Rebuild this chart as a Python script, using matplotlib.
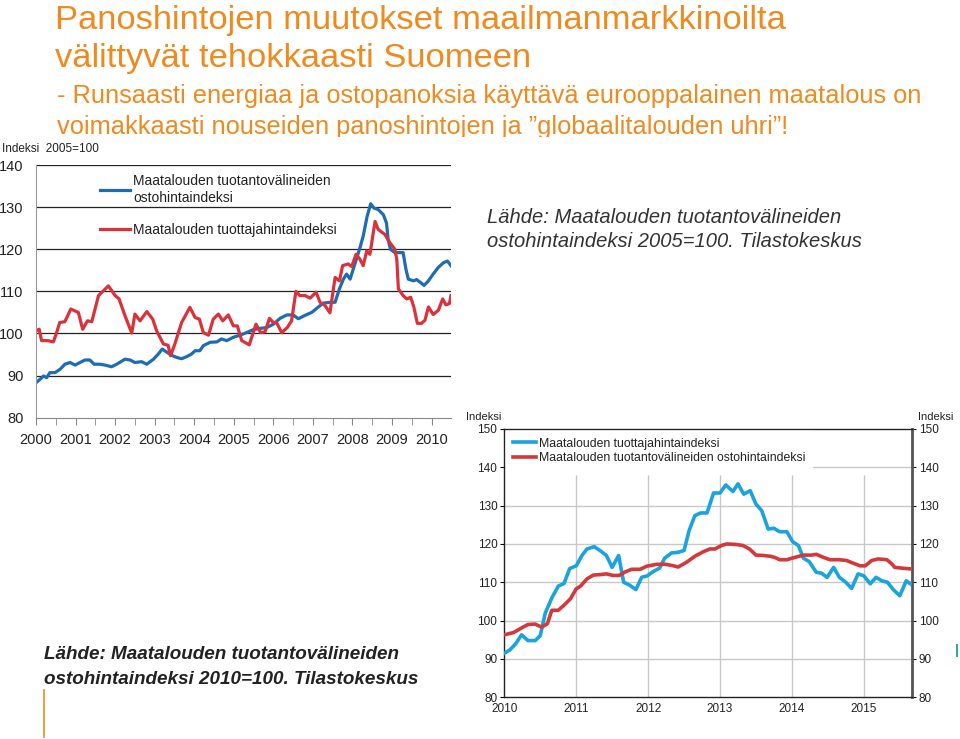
import matplotlib.pyplot as plt
from matplotlib.ticker import MultipleLocator

ORANGE = "#ef8a1e"

# Kuva 1: indeksi 2005=100
input05_t = [2000.0, 2000.1, 2000.19, 2000.27, 2000.35, 2000.48, 2000.61, 2000.73, 2000.86, 2000.99,
             2001.11, 2001.24, 2001.36, 2001.47, 2001.62, 2001.74, 2001.91, 2002.04, 2002.25, 2002.38,
             2002.5, 2002.67, 2002.8, 2002.97, 2003.09, 2003.19, 2003.3, 2003.43, 2003.56, 2003.68,
             2003.81, 2003.93, 2004.02, 2004.14, 2004.23, 2004.4, 2004.57, 2004.69, 2004.82, 2004.99,
             2005.16, 2005.32, 2005.49, 2005.66, 2005.83, 2006.0, 2006.17, 2006.34, 2006.5, 2006.63,
             2006.8, 2006.97, 2007.14, 2007.26, 2007.43, 2007.56, 2007.67, 2007.77, 2007.85, 2007.94,
             2008.06, 2008.19, 2008.27, 2008.37, 2008.46, 2008.54, 2008.65, 2008.78, 2008.86, 2008.9,
             2008.96, 2009.07, 2009.28, 2009.35, 2009.41, 2009.54, 2009.62, 2009.72, 2009.81, 2009.92,
             2010.04, 2010.17, 2010.3, 2010.4, 2010.49]
input05_v = [88.3, 89.1, 89.9, 89.5, 90.7, 90.7, 91.5, 92.7, 93.1, 92.5,
             93.1, 93.7, 93.7, 92.7, 92.7, 92.5, 92.1, 92.7, 93.9, 93.7,
             93.1, 93.3, 92.7, 93.9, 95.1, 96.3, 95.6, 94.8, 94.3, 94.0,
             94.5, 95.1, 95.9, 95.9, 97.1, 97.9, 98.0, 98.7, 98.3, 99.1,
             99.6, 100.2, 100.9, 101.2, 101.4, 102.2, 103.6, 104.4, 104.4, 103.5,
             104.3, 105.0, 106.3, 107.2, 107.4, 107.4, 110.6, 112.9, 114.1, 112.9,
             116.5, 120.4, 123.1, 127.8, 130.8, 129.8, 129.4, 128.2, 126.2, 122.3,
             120.0, 119.2, 119.2, 115.3, 112.9, 112.5, 112.8, 112.1, 111.4, 112.5,
             114.1, 115.7, 116.8, 117.2, 116.1]

producer05_t = [2000.0, 2000.08, 2000.14, 2000.3, 2000.44, 2000.52, 2000.6, 2000.73, 2000.88, 2001.07,
                2001.18, 2001.3, 2001.41, 2001.58, 2001.83, 2002.0, 2002.1, 2002.25, 2002.42, 2002.5,
                2002.63, 2002.8, 2002.95, 2003.05, 2003.22, 2003.34, 2003.4, 2003.51, 2003.68, 2003.89,
                2004.02, 2004.13, 2004.23, 2004.36, 2004.48, 2004.61, 2004.72, 2004.86, 2004.99, 2005.09,
                2005.2, 2005.39, 2005.56, 2005.68, 2005.79, 2005.9, 2006.0, 2006.08, 2006.21, 2006.35,
                2006.46, 2006.57, 2006.67, 2006.8, 2006.93, 2007.08, 2007.18, 2007.3, 2007.43, 2007.56,
                2007.67, 2007.75, 2007.89, 2007.98, 2008.09, 2008.19, 2008.27, 2008.36, 2008.44, 2008.57,
                2008.65, 2008.82, 2008.95, 2009.07, 2009.12, 2009.16, 2009.28, 2009.37, 2009.47, 2009.55,
                2009.64, 2009.74, 2009.83, 2009.92, 2010.04, 2010.17, 2010.28, 2010.36, 2010.45, 2010.49]
producer05_v = [100.6, 101.0, 98.3, 98.3, 98.0, 100.2, 102.6, 102.8, 105.8, 105.0,
                101.0, 103.0, 102.8, 109.0, 111.3, 109.0, 108.2, 104.2, 100.1, 104.6,
                103.0, 105.2, 103.4, 100.6, 97.5, 97.2, 94.7, 97.5, 102.6, 106.2,
                103.8, 103.4, 100.2, 99.6, 103.4, 104.6, 103.0, 104.4, 101.8, 101.8,
                98.3, 97.3, 102.2, 100.2, 100.4, 103.6, 102.6, 102.6, 100.2, 101.4,
                103.0, 110.0, 109.0, 109.0, 108.4, 109.8, 107.4, 106.7, 104.9, 113.3,
                112.5, 116.1, 116.5, 115.9, 118.8, 117.6, 116.1, 119.6, 118.8, 126.6,
                124.7, 123.5, 121.5, 120.0, 117.6, 110.6, 109.0, 108.2, 108.6, 106.3,
                102.4, 102.4, 103.1, 106.3, 104.5, 105.5, 108.2, 106.8, 107.1, 109.0]

# Kuva 2: indeksi 2010=100
producer10_t = [2010.0, 2010.08, 2010.16, 2010.24, 2010.33, 2010.43, 2010.5, 2010.57, 2010.66, 2010.75,
                2010.83, 2010.91, 2011.0, 2011.08, 2011.15, 2011.25, 2011.33, 2011.42, 2011.5, 2011.59,
                2011.66, 2011.74, 2011.83, 2011.91, 2011.99, 2012.07, 2012.16, 2012.23, 2012.33, 2012.41,
                2012.5, 2012.57, 2012.65, 2012.73, 2012.82, 2012.91, 2013.0, 2013.08, 2013.18, 2013.25,
                2013.33, 2013.42, 2013.5, 2013.58, 2013.67, 2013.75, 2013.83, 2013.93, 2014.01, 2014.09,
                2014.16, 2014.24, 2014.34, 2014.41, 2014.49, 2014.58, 2014.66, 2014.75, 2014.83, 2014.92,
                2015.0, 2015.09, 2015.17, 2015.25, 2015.33, 2015.41, 2015.5, 2015.59, 2015.65]
producer10_v = [91.5, 92.4, 94.0, 96.3, 94.8, 94.8, 96.1, 102.0, 105.9, 109.0,
                109.7, 113.6, 114.3, 117.0, 118.7, 119.3, 118.3, 117.0, 113.9, 117.0,
                110.0, 109.3, 108.1, 111.3, 111.7, 112.8, 113.7, 116.3, 117.7, 117.8,
                118.3, 123.5, 127.4, 128.1, 128.1, 133.3, 133.3, 135.4, 133.7, 135.7,
                133.0, 133.9, 130.4, 128.7, 123.9, 124.1, 123.2, 123.2, 120.6, 119.6,
                116.3, 115.4, 112.6, 112.4, 111.3, 113.9, 111.3, 110.0, 108.4, 112.2,
                111.7, 109.6, 111.3, 110.4, 110.0, 108.1, 106.5, 110.4, 109.6]

input10_t = [2010.0, 2010.13, 2010.24, 2010.33, 2010.43, 2010.52, 2010.6, 2010.66, 2010.75, 2010.84,
             2010.92, 2011.0, 2011.06, 2011.15, 2011.24, 2011.33, 2011.42, 2011.51, 2011.6, 2011.68,
             2011.77, 2011.89, 2011.98, 2012.12, 2012.24, 2012.33, 2012.42, 2012.54, 2012.65, 2012.77,
             2012.86, 2012.93, 2013.02, 2013.09, 2013.21, 2013.32, 2013.41, 2013.5, 2013.6, 2013.7,
             2013.76, 2013.83, 2013.93, 2014.04, 2014.16, 2014.27, 2014.34, 2014.44, 2014.53, 2014.65,
             2014.76, 2014.85, 2014.95, 2015.02, 2015.11, 2015.2, 2015.32, 2015.39, 2015.43, 2015.53,
             2015.65]
input10_v = [96.3, 96.9, 98.1, 99.0, 99.1, 98.3, 99.2, 102.7, 102.7, 104.2,
             105.7, 108.3, 109.0, 110.9, 111.9, 112.0, 112.2, 111.8, 111.8, 112.7,
             113.4, 113.4, 114.2, 114.7, 114.7, 114.4, 114.0, 115.3, 116.8, 118.0,
             118.7, 118.7, 119.6, 120.0, 119.9, 119.6, 118.7, 117.1, 117.0, 116.8,
             116.5, 115.9, 115.9, 116.5, 117.1, 117.1, 117.3, 116.5, 115.9, 115.9,
             115.7, 115.0, 114.3, 114.3, 115.7, 116.1, 115.9, 114.8, 113.9, 113.7,
             113.5]

years1 = list(range(2000, 2011))
years2 = list(range(2010, 2016))
grid2 = list(range(90, 141, 10))

W, H = 960, 739


def box(x0, y0, x1, y1):
    # pikselit (vasen yla -> oikea ala) -> figure-koordinaatit
    return [x0 / W, (H - y1) / H, (x1 - x0) / W, (y1 - y0) / H]


fig = plt.figure(figsize=(9.6, 7.39), dpi=100)
fig.patch.set_facecolor("white")

# otsikot
tf = "Liberation Sans"
fig.text(55 / W, 1 - 29 / H, "Panoshintojen muutokset maailmanmarkkinoilta", color=ORANGE,
         fontsize=24.8, family=tf, va="baseline")
fig.text(55 / W, 1 - 67 / H, "välittyvät tehokkaasti Suomeen", color=ORANGE,
         fontsize=24.8, family=tf, va="baseline")
fig.text(57 / W, 1 - 103 / H, "- Runsaasti energiaa ja ostopanoksia käyttävä eurooppalainen maatalous on",
         color=ORANGE, fontsize=18.3, family=tf, va="baseline")
fig.text(57 / W, 1 - 134 / H, "voimakkaasti nouseiden panoshintojen ja ”globaalitalouden uhri”!",
         color=ORANGE, fontsize=18.3, family=tf, va="baseline")

# valkoinen kuva-alue peittaa tekstin alareunan
cover = fig.add_axes(box(0, 136.5, 960, 400), zorder=4)
cover.set_facecolor("white")
cover.set_xticks([])
cover.set_yticks([])
for s in cover.spines.values():
    s.set_visible(False)

# ---- kuva 1 ----
nf = ["DejaVu Sans Condensed", "Liberation Sans"]
ax1 = fig.add_axes(box(36, 165, 451, 417.7), zorder=5)
ax1.set_facecolor("none")
ax1.plot(input05_t, input05_v, color="#1f6cb3", lw=2.3, label="Maatalouden tuotantovälineiden\nostohintaindeksi")
ax1.plot(producer05_t, producer05_v, color="#d9323a", lw=2.3, label="Maatalouden tuottajahintaindeksi")
ax1.set_xlim(2000, 2010.49)
ax1.set_ylim(80, 140)
ax1.set_yticks(range(80, 141, 10))
for v in grid2:
    ax1.axhline(v, color="#222222", lw=0.9, zorder=1)
ax1.set_xticks(years1)
ax1.xaxis.set_minor_locator(MultipleLocator(0.5))
ax1.tick_params(axis="x", which="both", direction="out", length=5, color="#888888", pad=6,
                labelsize=10.5)
ax1.tick_params(axis="y", length=0, pad=9, labelsize=10.5)
for lab in ax1.get_xticklabels() + ax1.get_yticklabels():
    lab.set_family(nf)
    lab.set_color("#222222")
ax1.spines["top"].set_visible(False)
ax1.spines["right"].set_visible(False)
ax1.spines["left"].set_color("#999999")
ax1.spines["bottom"].set_color("#888888")
leg1 = ax1.legend(loc="upper left", bbox_to_anchor=(0.142, 0.985), frameon=False, fontsize=10,
                  handlelength=2.15, handletextpad=0.2, labelspacing=1.35, borderaxespad=0)
for t in leg1.get_texts():
    t.set_family(nf)
    t.set_color("#222222")
fig.text(2 / W, 1 - 152 / H, "Indeksi  2005=100", fontsize=8.5, family=nf, va="baseline",
         color="#222222", zorder=6)

fig.text(487 / W, 1 - 223 / H, "Lähde: Maatalouden tuotantovälineiden", fontsize=14.5, family=tf,
         style="italic", color="#333333", va="baseline", zorder=6)
fig.text(487 / W, 1 - 247 / H, "ostohintaindeksi 2005=100. Tilastokeskus", fontsize=14.5, family=tf,
         style="italic", color="#333333", va="baseline", zorder=6)

# ---- kuva 2 ----
ax2 = fig.add_axes(box(504.3, 429, 911.7, 697.3), zorder=5)
ax2.plot(producer10_t, producer10_v, color="#1ba3dd", lw=2.6, label="Maatalouden tuottajahintaindeksi", zorder=3)
ax2.plot(input10_t, input10_v, color="#d3383a", lw=2.6, label="Maatalouden tuotantovälineiden ostohintaindeksi", zorder=3)
ax2.set_xlim(2010, 2015.666)
ax2.set_ylim(80, 150)
ax2.set_yticks(range(80, 151, 10))
ax2.set_xticks(years2)
ax2.hlines(grid2, 2010, 2015.666, color="#c8c8c8", lw=1.0, zorder=1)
ax2.vlines(years2[1:], 80, 138, color="#c8c8c8", lw=1.0, zorder=1)
ax2.tick_params(axis="x", length=0, pad=4, labelsize=8.5)
ax2.tick_params(axis="y", direction="out", length=3, pad=2, labelsize=8.5,
                left=True, right=True, labelleft=True, labelright=True)
for lab in ax2.get_xticklabels() + ax2.get_yticklabels():
    lab.set_family(tf)
    lab.set_color("#222222")
for side in ["top", "bottom", "left"]:
    ax2.spines[side].set_color("#222222")
    ax2.spines[side].set_linewidth(1.0)
ax2.spines["right"].set_color("#555555")
ax2.spines["right"].set_linewidth(2.0)
leg2 = ax2.legend(loc="upper left", bbox_to_anchor=(0.0, 1.0), frameon=True, fancybox=False,
                  framealpha=1, edgecolor="white", fontsize=8.8, handlelength=1.9,
                  handletextpad=0.2, labelspacing=0.2, borderaxespad=0.15, borderpad=0.55)
leg2.set_zorder(5)
for t in leg2.get_texts():
    t.set_family(tf)
    t.set_color("#222222")
fig.text(466 / W, 1 - 420 / H, "Indeksi", fontsize=8, family=tf, va="baseline", color="#222222", zorder=6)
fig.text(918 / W, 1 - 420 / H, "Indeksi", fontsize=8, family=tf, va="baseline", color="#222222", zorder=6)

fig.text(44 / W, 1 - 659 / H, "Lähde: Maatalouden tuotantovälineiden", fontsize=13.6, family=tf,
         style="italic", weight="bold", color="#222222", va="baseline")
fig.text(44 / W, 1 - 684 / H, "ostohintaindeksi 2010=100. Tilastokeskus", fontsize=13.6, family=tf,
         style="italic", weight="bold", color="#222222", va="baseline")

# oranssi pystyviiva ja pieni merkki reunassa
fig.add_artist(plt.Line2D([44 / W, 44 / W], [1 - 690 / H, 1 - 737 / H], color=ORANGE, lw=1.2))
fig.add_artist(plt.Line2D([957 / W, 957 / W], [1 - 645 / H, 1 - 656 / H], color="#3aa6a0", lw=1.5))

fig.savefig("out.png", dpi=100)
plt.close(fig)
